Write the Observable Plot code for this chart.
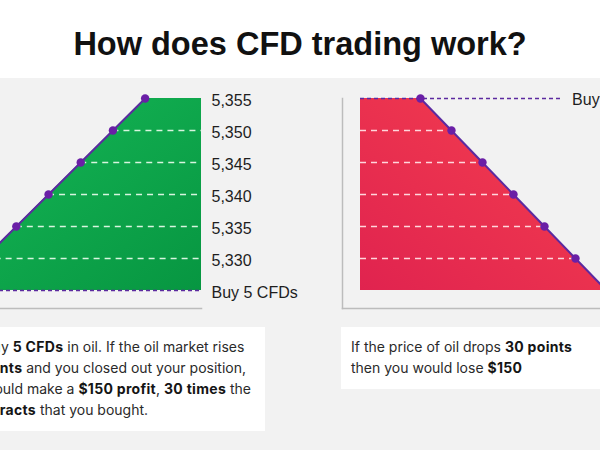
<!DOCTYPE html>
<html>
<head>
<meta charset="utf-8">
<script src="https://cdn.jsdelivr.net/npm/d3@7"></script>
<script src="https://cdn.jsdelivr.net/npm/@observablehq/plot@0.6"></script>
<style>
  html, body { margin: 0; padding: 0; width: 600px; height: 450px; overflow: hidden; background: #f2f2f2; }
  body { position: relative; font-family: "Liberation Sans", Arial, sans-serif; color: #1e1e1e; }
  #title { position: absolute; left: 0; top: 0; width: 600px; height: 78px; background: #fff;
           text-align: center; font: bold 32.5px "Liberation Sans", Arial, sans-serif; line-height: 32px;
           box-sizing: border-box; padding-top: 28px; color: #111; white-space: nowrap; }
  .chart { position: absolute; top: 80px; }
  .chart svg { max-width: none !important; }
  .box { position: absolute; background: #fff; box-sizing: border-box; font: 14px Inter, sans-serif; line-height: 21px;
         color: #2a2a2a; padding: 8.5px 10px 0 10px; white-space: nowrap; }
  .box b { color: #151515; font-weight: 700; letter-spacing: 0.3px; }
</style>
</head>
<body>
<div id="title">How does CFD trading work?</div>
<div id="left" class="chart"></div>
<div id="right" class="chart"></div>
<div class="box" style="left:-55px; top:327px; width:320px; height:104px;">
  You buy <b>5 CFDs</b> in oil. If the oil market rises<br>
  <b>30 points</b> and you closed out your position,<br>
  you would make a <b>$150 profit</b>, <b>30 times</b> the<br>
  <b>5 contracts</b> that you bought.
</div>
<div class="box" style="left:341px; top:327px; width:280px; height:62px;">
  If the price of oil drops <b>30 points</b><br>
  then you would lose <b>$150</b>
</div>
<script>
// ---- data ----
const steps = [0, 1, 2, 3, 4, 5, 6];
const risePrices = [5325, 5330, 5335, 5340, 5345, 5350, 5355];
const dropPrices = [5355, 5350, 5345, 5340, 5335, 5330, 5325];
const buyPrice = 5325;      // left: buy level
const buyPriceRight = 5355; // right: buy level
const tickValues = [5325, 5330, 5335, 5340, 5345, 5350, 5355];
const buyLabel = "Buy 5 CFDs";

// ---- layout constants (scale domains) ----
const leftDomain = [-2, 7.75];
const rightDomain = [-1.935, 6];
const rightLabelAt = 4.6;

const purple = "#5c2aa0";
const dotPurple = "#6a1fa6";
const frameGray = "#bcbcbc";

const rise = steps.map((s, i) => ({step: s, price: risePrices[i]}));
const drop = steps.map((s, i) => ({step: s, price: dropPrices[i]}));

const riseArea = [...rise, {step: leftDomain[1], price: risePrices[risePrices.length - 1]}];
const dropArea = [{step: rightDomain[0], price: dropPrices[0]}, ...drop];

function addGradient(svg, id, stops, x1, y1, x2, y2) {
  const defs = d3.select(svg).insert("defs", ":first-child");
  const g = defs.append("linearGradient").attr("id", id)
    .attr("x1", x1).attr("y1", y1).attr("x2", x2).attr("y2", y2);
  stops.forEach(([o, c]) => g.append("stop").attr("offset", o).attr("stop-color", c));
}

const common = {
  height: 238,
  marginTop: 18,
  marginBottom: 10,
  insetBottom: 18,
  y: {domain: [5325, 5355]},
  style: {background: "transparent", overflow: "visible", maxWidth: "none", fontFamily: "Liberation Sans, Arial, sans-serif"}
};

// ---- left chart (rise) ----
const leftPlot = Plot.plot({
  ...common,
  width: 424,
  marginLeft: 0,
  marginRight: 110,
  x: {domain: leftDomain, axis: null},
  marks: [
    Plot.areaY(riseArea, {x: "step", y1: buyPrice, y2: "price", fill: "url(#greenGrad)", curve: "linear"}),
    Plot.ruleY(rise.filter(d => d.price > buyPrice && d.price < 5355),
      {y: "price", x1: "step", x2: leftDomain[1], stroke: "#d8f5df", strokeWidth: 1.5, strokeDasharray: "6,5"}),
    Plot.ruleY([buyPrice], {x1: leftDomain[0], x2: leftDomain[1], stroke: purple, strokeWidth: 1.5, strokeDasharray: "4,3"}),
    Plot.line(rise, {x: "step", y: "price", stroke: purple, strokeWidth: 2}),
    Plot.dot(rise, {x: "step", y: "price", r: 4.2, fill: dotPurple}),
    Plot.frame({anchor: "bottom", stroke: frameGray, strokeWidth: 1.5}),
    Plot.axisY({anchor: "right", ticks: tickValues, tickSize: 0, tickPadding: 10, fontSize: 16, dy: 2,
      fill: "#1e1e1e",
      tickFormat: d => d === buyPrice ? buyLabel : d3.format(",")(d), label: null})
  ]
});
addGradient(leftPlot, "greenGrad", [["0%", "#16b857"], ["100%", "#079641"]], "0%", "0%", "100%", "100%");
const leftDiv = document.getElementById("left");
leftDiv.style.left = "-113px";
leftDiv.style.width = "424px";
leftDiv.appendChild(leftPlot);

// ---- right chart (drop) ----
const rightPlot = Plot.plot({
  ...common,
  width: 374,
  marginLeft: 10,
  marginRight: 100,
  insetLeft: 18,
  x: {domain: rightDomain, axis: null},
  y: {domain: [5325, 5355], axis: null},
  marks: [
    Plot.areaY(dropArea, {x: "step", y1: 5325, y2: "price", fill: "url(#redGrad)", curve: "linear"}),
    Plot.ruleY(drop.filter(d => d.price < buyPriceRight && d.price > 5325),
      {y: "price", x1: rightDomain[0], x2: "step", stroke: "#ffd6dc", strokeWidth: 1.5, strokeDasharray: "6,5"}),
    Plot.ruleY([buyPriceRight], {x1: rightDomain[0], x2: rightLabelAt, stroke: purple, strokeWidth: 1.5, strokeDasharray: "4,3"}),
    Plot.line(drop, {x: "step", y: "price", stroke: purple, strokeWidth: 2}),
    Plot.dot(drop, {x: "step", y: "price", r: 4.2, fill: dotPurple}),
    Plot.frame({anchor: "left", stroke: frameGray, strokeWidth: 1.5}),
    Plot.frame({anchor: "bottom", stroke: frameGray, strokeWidth: 1.5}),
    Plot.text([buyPriceRight], {x: rightLabelAt, y: d => d, text: () => buyLabel, dx: 9, dy: 1,
      textAnchor: "start", fontSize: 16, fill: "#1e1e1e"})
  ]
});
addGradient(rightPlot, "redGrad", [["0%", "#f5404f"], ["100%", "#e0234f"]], "100%", "0%", "0%", "100%");
const rightDiv = document.getElementById("right");
rightDiv.style.left = "332px";
rightDiv.style.width = "374px";
rightDiv.appendChild(rightPlot);
</script>
</body>
</html>
